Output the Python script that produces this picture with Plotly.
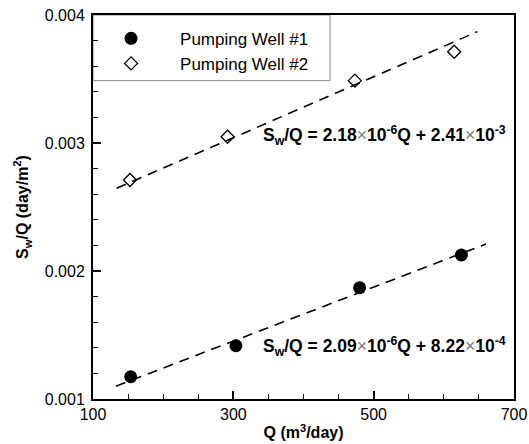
import plotly.graph_objects as go

# Data
well1_q = [153.7, 303.7, 480.0, 625.0]
well1_sq = [0.001174, 0.001416, 0.00187, 0.002125]
well2_q = [152.7, 291.8, 473.2, 614.7]
well2_sq = [0.002711, 0.003049, 0.003487, 0.003713]

fit1_q = [132.8, 660.0]
fit1_sq = [0.0011, 0.002211]
fit2_q = [133.7, 648.0]
fit2_sq = [0.002646, 0.00387]

x_ticks = [100, 300, 500, 700]
y_ticks = [0.001, 0.002, 0.003, 0.004]
y_tick_labels = ["0.001", "0.002", "0.003", "0.004"]

names = ["Pumping Well #1", "Pumping Well #2"]
eq1 = "<b>S<sub>w</sub>/Q = 2.09</b><span style='color:#777'>×</span><b>10<sup>-6</sup>Q + 8.22</b><span style='color:#777'>×</span><b>10<sup>-4</sup></b>"
eq2 = "<b>S<sub>w</sub>/Q = 2.18</b><span style='color:#777'>×</span><b>10<sup>-6</sup>Q + 2.41</b><span style='color:#777'>×</span><b>10<sup>-3</sup></b>"

FONT = "Arial, Liberation Sans, sans-serif"

fig = go.Figure()
fig.add_trace(go.Scatter(x=fit1_q, y=fit1_sq, mode="lines", showlegend=False,
                         line=dict(color="black", width=1.6, dash="10px,7px")))
fig.add_trace(go.Scatter(x=fit2_q, y=fit2_sq, mode="lines", showlegend=False,
                         line=dict(color="black", width=1.6, dash="10px,7px")))
fig.add_trace(go.Scatter(x=well1_q, y=well1_sq, mode="markers", name=names[0],
                         marker=dict(symbol="circle", size=13, color="black")))
fig.add_trace(go.Scatter(x=well2_q, y=well2_sq, mode="markers", name=names[1],
                         marker=dict(symbol="diamond-open", size=10, color="black",
                                     line=dict(width=1.3, color="black"))))

fig.add_annotation(x=340, y=0.00306, xref="x", yref="y", text=eq2, showarrow=False,
                   xanchor="left", yanchor="middle", font=dict(family=FONT, size=17.5, color="black"))
fig.add_annotation(x=340, y=0.001409, xref="x", yref="y", text=eq1, showarrow=False,
                   xanchor="left", yanchor="middle", font=dict(family=FONT, size=17.5, color="black"))

# legend frame
fig.add_shape(type="rect", xref="paper", yref="paper", x0=0, x1=0.563, y0=0.829, y1=1,
              line=dict(color="#888888", width=1), fillcolor="white", layer="below")

fig.update_layout(
    template="none",
    width=529, height=444,
    margin=dict(l=93, r=15, t=15, b=45, autoexpand=False),
    plot_bgcolor="white", paper_bgcolor="white",
    font=dict(family=FONT, size=15, color="black"),
    legend=dict(x=-0.026, y=0.985, xanchor="left", yanchor="top", bgcolor="rgba(0,0,0,0)",
                borderwidth=0, itemwidth=88, font=dict(size=17), tracegroupgap=0),
    xaxis=dict(range=[100, 700], tickvals=x_ticks, ticks="inside", ticklen=8, tickwidth=1.5,
               tickcolor="black", automargin=False,
               showline=True, linecolor="black", linewidth=2, mirror=True, showgrid=False,
               zeroline=False, tickfont=dict(size=16),
               minor=dict(dtick=50, ticks="inside", ticklen=5, tickwidth=1, tickcolor="black", showgrid=False),
               title=dict(text="<b>Q (m<sup>3</sup>/day)</b>", font=dict(size=16), standoff=5)),
    yaxis=dict(range=[0.001, 0.004], tickvals=y_ticks, ticktext=y_tick_labels, ticks="inside",
               ticklen=8, tickwidth=1.5, tickcolor="black", automargin=False,
               showline=True, linecolor="black", linewidth=2, mirror=True,
               showgrid=False, zeroline=False, tickfont=dict(size=16), ticklabelstandoff=3,
               minor=dict(dtick=0.0002, ticks="inside", ticklen=5, tickwidth=1, tickcolor="black", showgrid=False),
               title=dict(text="<b>S<sub>w</sub>/Q (day/m<sup>2</sup>)</b>", font=dict(size=16), standoff=12)),
)

fig.write_html("out.html", config={"displayModeBar": False},
               post_script="document.body.style.margin='0';document.body.style.overflow='hidden';")
